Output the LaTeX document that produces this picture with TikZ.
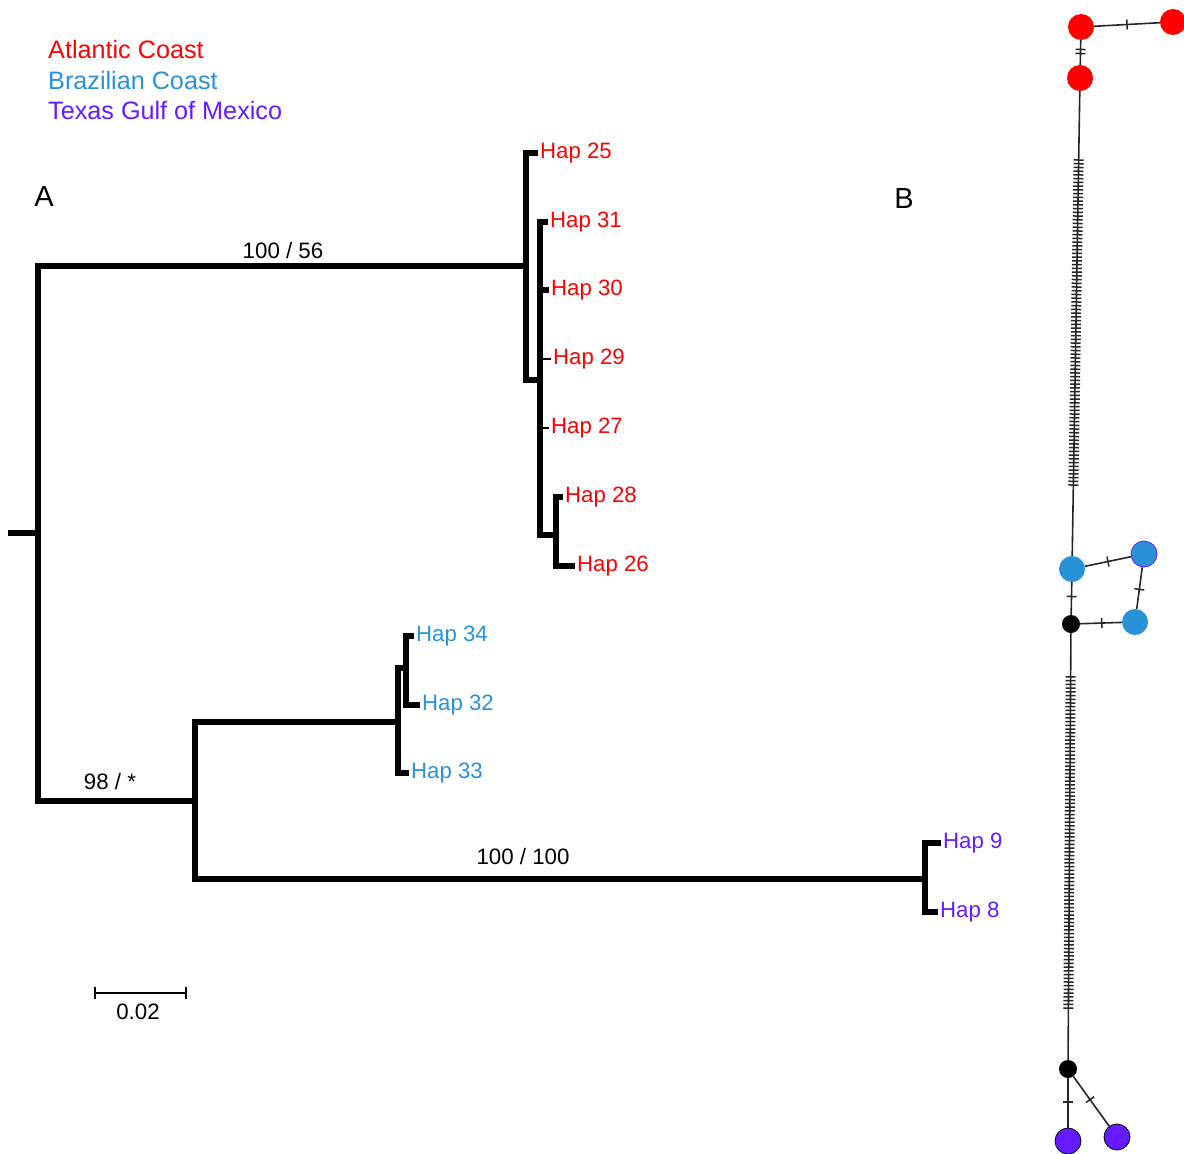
\documentclass[tikz,border=0pt]{standalone}
\usepackage{fontspec}
\setmainfont{Liberation Sans}
\usetikzlibrary{calc}
\definecolor{cAtl}{RGB}{255,0,0}
\definecolor{cBra}{RGB}{41,146,214}
\definecolor{cTex}{RGB}{102,26,255}
\begin{document}
\begin{tikzpicture}[x=1pt,y=-1pt,
  tree/.style={line width=6.5pt, line join=miter, line cap=butt},
  thinstub/.style={line width=2pt},
  tiplab/.style={anchor=west, inner sep=0pt, font=\fontsize{22.2}{26}\selectfont},
  brlab/.style={inner sep=0pt, font=\fontsize{22.3}{26}\selectfont},
  leglab/.style={anchor=west, inner sep=0pt, font=\fontsize{25.2}{29}\selectfont},
  panel/.style={inner sep=0pt, font=\fontsize{29}{32}\selectfont},
  hap/.style={circle, inner sep=0pt, minimum size=26pt},
  med/.style={circle, fill=black, inner sep=0pt, minimum size=18pt},
  edge/.style={line width=1.6pt, draw=black!85},
  tick/.style={line width=1.5pt, draw=black!85}]
\useasboundingbox (0,0) rectangle (1184,1154);

% ---------- legend ----------
\node[leglab, text=cAtl] (legA) at (48,49) {Atlantic Coast};
\node[leglab, text=cBra] (legB) at (48,80) {Brazilian Coast};
\node[leglab, text=cTex] (legT) at (48,110) {Texas Gulf of Mexico};

\node[panel] (pA) at (44,197) {A};
\node[panel] (pB) at (904,199) {B};

% ---------- tree coordinates ----------
\coordinate (stub) at (8,533);
\coordinate (root) at (38,533);
\coordinate (n1) at (526,266);
\coordinate (n2) at (540,380);
\coordinate (n3) at (556,535);
\coordinate (n4) at (195,801);
\coordinate (n5) at (398,722);
\coordinate (n7) at (406,668);
\coordinate (n6) at (925,879);
\coordinate (t25) at (538,153);
\coordinate (t31) at (548,222);
\coordinate (t30) at (549,290);
\coordinate (t29) at (551,359);
\coordinate (t27) at (549,428);
\coordinate (t28) at (563,497);
\coordinate (t26) at (575,566);
\coordinate (t34) at (414,636);
\coordinate (t32) at (420,705);
\coordinate (t33) at (409,773);
\coordinate (t9) at (941,843);
\coordinate (t8) at (938,912);

% ---------- tree branches ----------
\draw[tree] (stub) -- (root);
\draw[tree] (root) |- (n1);
\draw[tree] (root) |- (n4);
\draw[tree] (n1) |- (t25);
\draw[tree] (n1) |- (n2);
\draw[tree] (n2) |- (t31);
\draw[tree] (n2) |- (t30);
\draw[tree] (n2) |- (n3);
\draw[thinstub] (n2) |- (t29);
\draw[thinstub] (n2) |- (t27);
\draw[tree] (n3) |- (t28);
\draw[tree] (n3) |- (t26);
\draw[tree] (n4) |- (n5);
\draw[tree] (n4) |- (n6);
\draw[tree] (n5) |- (n7);
\draw[tree] (n5) |- (t33);
\draw[tree] (n7) |- (t34);
\draw[tree] (n7) |- (t32);
\draw[tree] (n6) |- (t9);
\draw[tree] (n6) |- (t8);

% ---------- tip labels ----------
\node[tiplab, text=cAtl] (l25) at ($(t25)+(2,0)$) {Hap 25};
\node[tiplab, text=cAtl] (l31) at ($(t31)+(2,0)$) {Hap 31};
\node[tiplab, text=cAtl] (l30) at ($(t30)+(2,0)$) {Hap 30};
\node[tiplab, text=cAtl] (l29) at ($(t29)+(2,0)$) {Hap 29};
\node[tiplab, text=cAtl] (l27) at ($(t27)+(2,0)$) {Hap 27};
\node[tiplab, text=cAtl] (l28) at ($(t28)+(2,0)$) {Hap 28};
\node[tiplab, text=cAtl] (l26) at ($(t26)+(2,0)$) {Hap 26};
\node[tiplab, text=cBra] (l34) at ($(t34)+(2,0)$) {Hap 34};
\node[tiplab, text=cBra] (l32) at ($(t32)+(2,0)$) {Hap 32};
\node[tiplab, text=cBra] (l33) at ($(t33)+(2,0)$) {Hap 33};
\node[tiplab, text=cTex] (l9) at ($(t9)+(2,0)$) {Hap 9};
\node[tiplab, text=cTex] (l8) at ($(t8)+(2,0)$) {Hap 8};

% ---------- branch support labels ----------
\node[brlab] (s1) at (283,251) {100 / 56};
\node[brlab] (s2) at (110,782) {98 / *};
\node[brlab] (s3) at (523,857) {100 / 100};

% ---------- scale bar ----------
\coordinate (sb1) at (95,993);
\coordinate (sb2) at (186,993);
\draw[line width=2.5pt] (sb1) -- (sb2);
\draw[line width=2.5pt] ($(sb1)+(0,-6)$) -- ($(sb1)+(0,6)$);
\draw[line width=2.5pt] ($(sb2)+(0,-6)$) -- ($(sb2)+(0,6)$);
\node[brlab] (sbl) at (138,1012) {0.02};

% ---------- network ----------
\node[hap, fill=cAtl] (R1) at (1081,27) {};
\node[hap, fill=cAtl] (R2) at (1173,22) {};
\node[hap, fill=cAtl] (R3) at (1080,78) {};
\node[hap, fill=cBra] (B1) at (1072,569) {};
\node[hap, fill=cBra, draw=cTex, line width=0.8pt] (B2) at (1144,554) {};
\node[hap, fill=cBra] (B3) at (1135,622) {};
\node[med] (K1) at (1071,624) {};
\node[med] (K2) at (1068,1069) {};
\node[hap, fill=cTex, draw=black, line width=0.8pt] (P1) at (1068,1141) {};
\node[hap, fill=cTex, draw=black, line width=0.8pt] (P2) at (1117,1137) {};

\draw[edge] (R1) -- (R2);
\draw[edge] (R1) -- (R3);
\draw[edge] (R3) -- (B1);
\draw[edge] (B1) -- (B2);
\draw[edge] (B2) -- (B3);
\draw[edge] (B1) -- (K1);
\draw[edge] (K1) -- (B3);
\draw[edge] (K1) -- (K2);
\draw[edge] (K2) -- (P1);
\draw[edge] (K2) -- (P2);

% single / double ticks
\foreach \a/\b/\f in {R1/R2/0.5, R1/R3/0.44, R1/R3/0.52, B1/B2/0.5, B2/B3/0.52, K1/B3/0.48, B1/K1/0.5, K2/P1/0.46, K2/P2/0.45}{
  \draw[tick] ($(\a.center)!\f!(\b.center)!5pt!90:(\b.center)$) -- ($(\a.center)!\f!(\b.center)!5pt!-90:(\b.center)$);
}
% many ticks on the long edges
\foreach \i in {0,...,87}{
  \pgfmathsetmacro\f{0.167+\i*(0.829-0.167)/87}
  \draw[tick] ($(R3.center)!\f!(B1.center)!5pt!90:(B1.center)$) -- ($(R3.center)!\f!(B1.center)!5pt!-90:(B1.center)$);
}
\foreach \i in {0,...,89}{
  \pgfmathsetmacro\f{0.119+\i*(0.863-0.119)/89}
  \draw[tick] ($(K1.center)!\f!(K2.center)!5pt!90:(K2.center)$) -- ($(K1.center)!\f!(K2.center)!5pt!-90:(K2.center)$);
}
\end{tikzpicture}
\end{document}
